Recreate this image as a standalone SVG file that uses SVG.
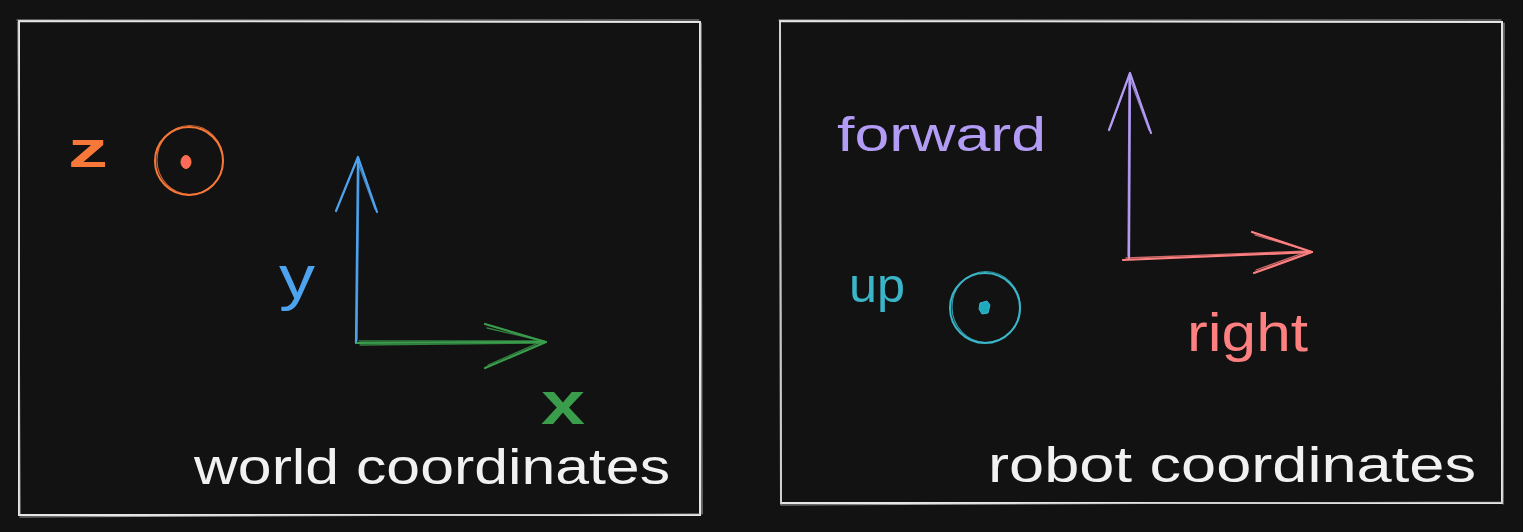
<svg xmlns="http://www.w3.org/2000/svg" width="1523" height="532" viewBox="0 0 1523 532">
<style>
.frame{fill:none;stroke:#e6e6e6;stroke-width:2;stroke-linecap:round}
.frame2{fill:none;stroke:#bdbdbd;stroke-width:1.2;stroke-linecap:round;opacity:.8}
.lbl{font-family:"Liberation Sans","Noto Sans",sans-serif}
.ln{fill:none;stroke-width:2.2;stroke-linecap:round;stroke-linejoin:round}
.ln2{fill:none;stroke-width:1.3;stroke-linecap:round;opacity:.8}
</style>
<rect x="0" y="0" width="1523" height="532" fill="#121212"/>

<g id="world-frame">
<path class="frame" d="M19 21 L700 22 L700 515 L19 515 Z"/>
<path class="frame2" d="M17 20 L699 20 M701 23 L702 514 M20 517 L700 514 M18 22 L20 514"/>
<text class="lbl" x="194" y="484" font-size="50" fill="#f1f1f1" textLength="476" lengthAdjust="spacingAndGlyphs">world coordinates</text>
</g>

<g id="z-axis">
<text class="lbl" x="68" y="167" font-size="50" font-weight="bold" fill="#f8783a" textLength="40" lengthAdjust="spacingAndGlyphs">z</text>
<circle cx="189" cy="161" r="34" fill="none" stroke="#f8783a" stroke-width="2"/>
<ellipse cx="190" cy="160" rx="33" ry="34.5" fill="none" stroke="#f8783a" stroke-width="1.2" opacity=".8"/>
<ellipse cx="186" cy="162" rx="5" ry="6.5" fill="#ff6a5c" stroke="#f8783a" stroke-width="1"/>
</g>

<g id="y-label">
<text class="lbl" x="279" y="298" font-size="62" fill="#4ea3ef" textLength="36" lengthAdjust="spacingAndGlyphs">y</text>
</g>
<g id="x-label">
<text class="lbl" x="541" y="424" font-size="62" font-weight="bold" fill="#3a9d4c" textLength="44" lengthAdjust="spacingAndGlyphs">x</text>
</g>

<g id="robot-frame">
<path class="frame" d="M780 21 L1502 22 L1502 503 L781 503 Z"/>
<path class="frame2" d="M779 20 L1501 20 M1504 23 L1503 504 M781 505 L1503 502 M780 22 L781 505"/>
<text class="lbl" x="988" y="482" font-size="50" fill="#f1f1f1" textLength="488" lengthAdjust="spacingAndGlyphs">robot coordinates</text>
</g>

<g id="forward-label">
<text class="lbl" x="837" y="151" font-size="48" fill="#b39cf5" textLength="209" lengthAdjust="spacingAndGlyphs">forward</text>
</g>
<g id="up-axis">
<text class="lbl" x="849" y="302" font-size="48" fill="#3bb6c8" textLength="56" lengthAdjust="spacingAndGlyphs">up</text>
<circle cx="985" cy="308" r="35" fill="none" stroke="#3bb6c8" stroke-width="2"/>
<ellipse cx="986" cy="307" rx="34" ry="35.5" fill="none" stroke="#3bb6c8" stroke-width="1.2" opacity=".8"/>
<path d="M980 303 L987 301 L990 305 L988 313 L982 314 L979 309 Z" fill="#1fa9bd" stroke="#3bb6c8" stroke-width="1"/>
</g>
<g id="right-label">
<text class="lbl" x="1187" y="351" font-size="54" fill="#ff8080" textLength="121" lengthAdjust="spacingAndGlyphs">right</text>
</g>

<g id="connectors">
<!-- world y (blue) -->
<path class="ln" stroke="#4ea3ef" d="M356 343 L358 158"/>
<path class="ln2" stroke="#4ea3ef" d="M357 340 L359 160"/>
<path class="ln" stroke="#4ea3ef" d="M336 211 L358 157 L377 212"/>
<path class="ln2" stroke="#4ea3ef" d="M338 206 L357 160 L375 209"/>
<!-- world x (green) -->
<path class="ln" stroke="#3a9d4c" d="M357 343 L546 342"/>
<path class="ln2" stroke="#3a9d4c" d="M359 341 L544 341 M360 345 L543 343"/>
<path class="ln" stroke="#3a9d4c" d="M485 324 L546 342 L485 368"/>
<path class="ln2" stroke="#3a9d4c" d="M487 328 L543 341 L488 365"/>
<!-- robot forward (purple) -->
<path class="ln" stroke="#b39cf5" d="M1129 259 L1130 74"/>
<path class="ln2" stroke="#b39cf5" d="M1128 256 L1129 76"/>
<path class="ln" stroke="#b39cf5" d="M1109 130 L1130 73 L1151 133"/>
<path class="ln2" stroke="#b39cf5" d="M1111 126 L1129 76 L1149 130"/>
<!-- robot right (red) -->
<path class="ln" stroke="#ff8080" d="M1123 260 L1312 252"/>
<path class="ln2" stroke="#ff8080" d="M1126 258 L1310 251"/>
<path class="ln" stroke="#ff8080" d="M1252 232 L1312 252 L1254 273"/>
<path class="ln2" stroke="#ff8080" d="M1255 235 L1309 251 L1256 270"/>
</g>
</svg>
